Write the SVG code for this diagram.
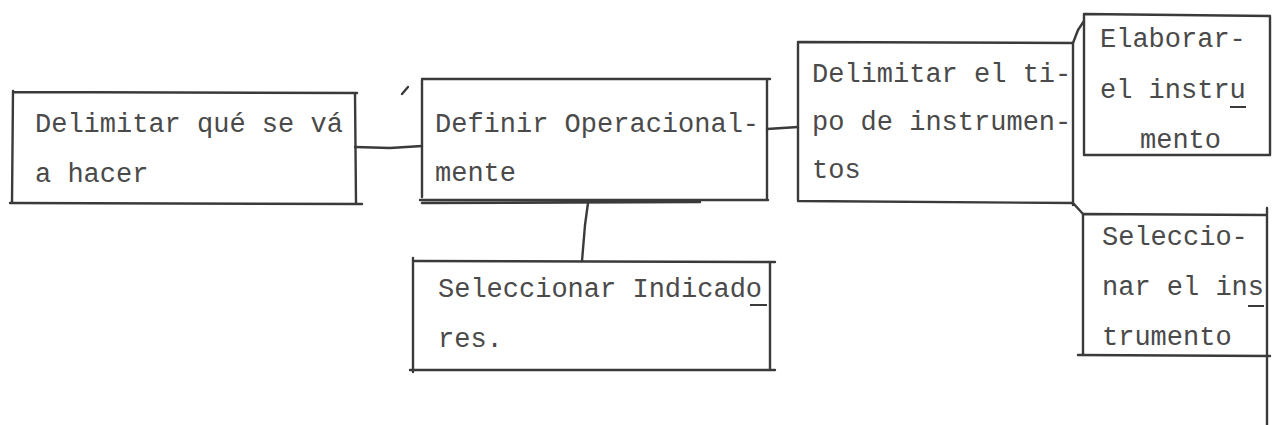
<svg xmlns="http://www.w3.org/2000/svg" width="1275" height="425" viewBox="0 0 1275 425">
<style>
.ln{fill:none;stroke:#3a3a3a;stroke-width:2.4;stroke-linecap:round;stroke-linejoin:round}
.t{font-family:"Liberation Mono","Courier New",monospace;font-size:27px;fill:#4a4a4a}
.u{stroke:#3a3a3a;stroke-width:2}
</style>
<rect width="1275" height="425" fill="#ffffff"/>
<g id="connectors" class="ln">
<path d="M355,147 L390,148 L422,146"/>
<path d="M767,129 L798,127"/>
<path d="M588,203 L585,225 L582,261"/>
<path d="M1073,43 L1078,30 L1084,21"/>
<path d="M1073,203 L1083,214"/>
<path d="M402,94 L408,87"/>
</g>
<g id="node1">
<path class="ln" d="M13,92 L357,93 M13,91 L12,203 M355,93 L356,203 M10,203 L362,204"/>
<text class="t" x="35" y="132">Delimitar qué se vá</text>
<text class="t" x="35" y="182">a hacer</text>
</g>
<g id="node2">
<path class="ln" d="M422,79 L770,79 M422,80 L422,197 M767,79 L767,200 M420,200 L768,200 M422,203 L700,202"/>
<text class="t" x="435" y="132">Definir Operacional-</text>
<text class="t" x="435" y="181">mente</text>
</g>
<g id="node3">
<path class="ln" d="M798,42 L1073,43 M798,42 L798,201 M1073,43 L1073,205 M798,201 L1073,203"/>
<text class="t" x="812" y="82">Delimitar el ti-</text>
<text class="t" x="812" y="130">po de instrumen-</text>
<text class="t" x="812" y="178">tos</text>
</g>
<g id="node4">
<path class="ln" d="M1084,14 L1270,16 M1084,14 L1084,155 M1270,16 L1270,155 M1084,155 L1270,155"/>
<text class="t" x="1100" y="47">Elaborar-</text>
<text class="t" x="1100" y="98">el instru</text>
<line class="u" x1="1230" y1="107" x2="1246" y2="107"/>
<text class="t" x="1140" y="148">mento</text>
</g>
<g id="node5">
<path class="ln" d="M1083,214 L1267,215 M1083,214 L1083,355 M1267,208 L1267,425 M1078,355 L1270,356"/>
<text class="t" x="1102" y="245">Seleccio-</text>
<text class="t" x="1102" y="295">nar el ins</text>
<line class="u" x1="1248" y1="306" x2="1264" y2="306"/>
<text class="t" x="1102" y="345">trumento</text>
</g>
<g id="node6">
<path class="ln" d="M415,261 L775,262 M413,258 L413,372 M770,262 L770,370 M410,370 L775,370"/>
<text class="t" x="438" y="297">Seleccionar Indicado</text>
<line class="u" x1="750" y1="305" x2="767" y2="305"/>
<text class="t" x="438" y="347">res.</text>
</g>
</svg>
